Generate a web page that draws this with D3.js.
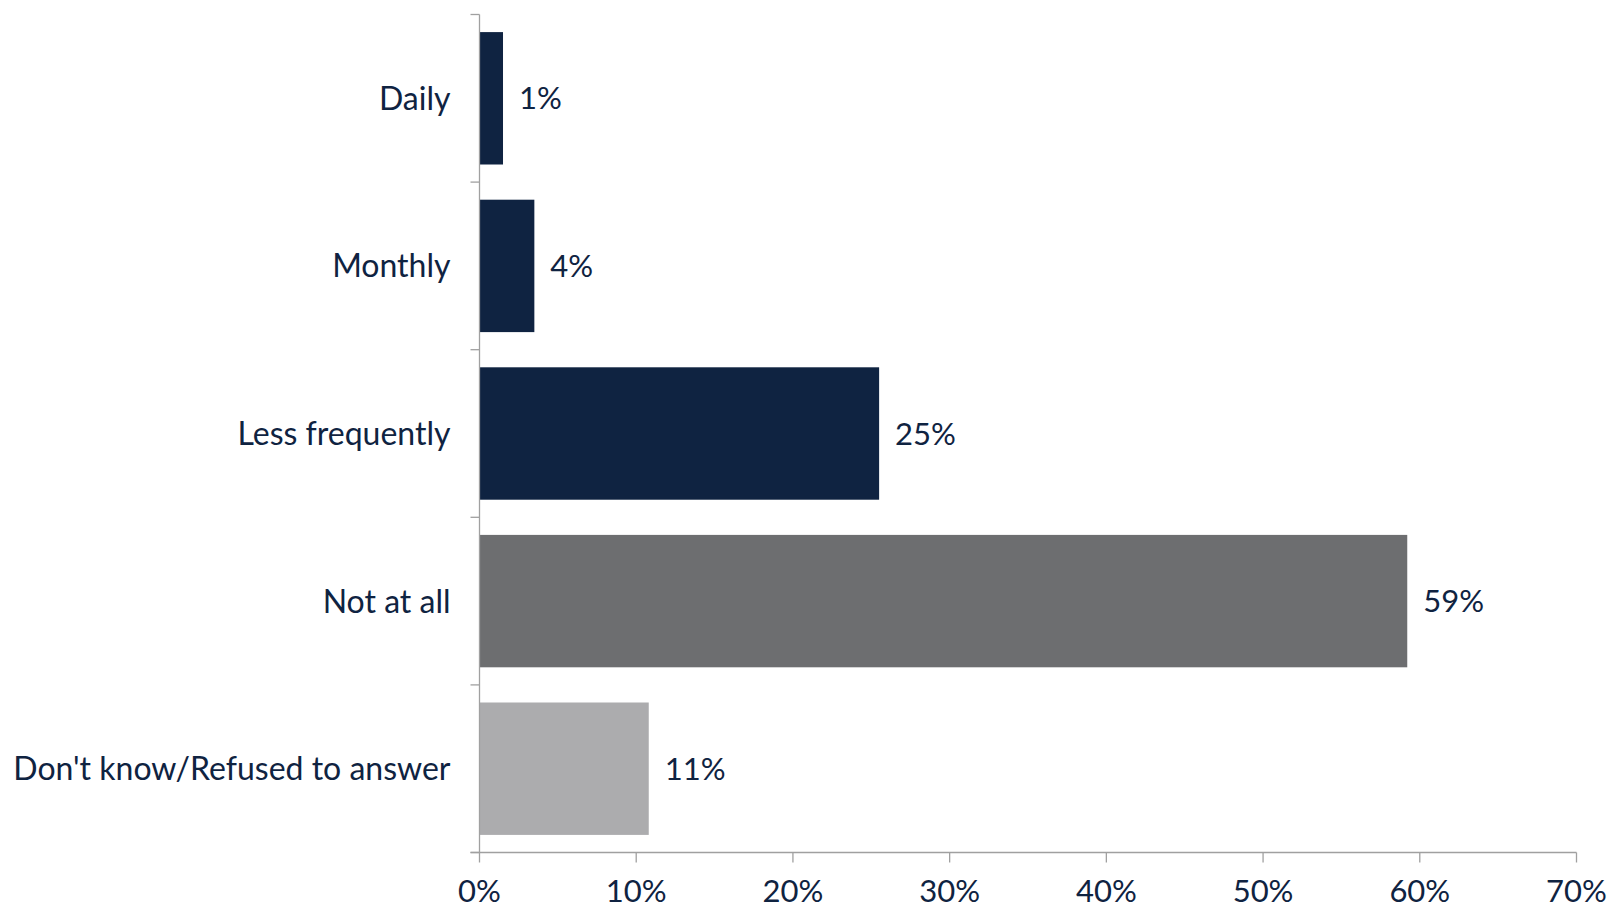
<!DOCTYPE html>
<html>
<head>
<meta charset="utf-8">
<script src="https://d3js.org/d3.v7.min.js"></script>
<style>
  body { margin: 0; background: #fff; }
  text { font-family: Lato, "Open Sans", sans-serif; fill: #0f2341; }
</style>
</head>
<body>
<script>
var categories = ["Daily", "Monthly", "Less frequently", "Not at all", "Don't know/Refused to answer"];
var values = [1.5, 3.5, 25.5, 59.2, 10.8];   // percent
var labels = ["1%", "4%", "25%", "59%", "11%"];
var colors = ["#0f2341", "#0f2341", "#0f2341", "#6d6e70", "#acacae"];
var xTicks = [0, 10, 20, 30, 40, 50, 60, 70];

var width = 1608, height = 907;
var mLeft = 479.5, mRight = 1576.5, mTop = 14.5, mBottom = 852.5;

var svg = d3.select("body").append("svg")
    .attr("width", width)
    .attr("height", height);

var x = d3.scaleLinear().domain([0, 70]).range([mLeft, mRight]);
var y = d3.scaleBand().domain(categories).range([mTop, mBottom])
    .paddingInner(0.21).paddingOuter(0.105);

var axisColor = "#a0a0a0";

// bars
svg.append("g").selectAll("rect")
    .data(categories)
    .enter().append("rect")
    .attr("x", x(0))
    .attr("y", function(d) { return y(d); })
    .attr("width", function(d, i) { return x(values[i]) - x(0); })
    .attr("height", y.bandwidth())
    .attr("fill", function(d, i) { return colors[i]; });

// value labels
svg.append("g").selectAll("text")
    .data(categories)
    .enter().append("text")
    .attr("x", function(d, i) { return x(values[i]) + 16; })
    .attr("y", function(d) { return y(d) + y.bandwidth() / 2; })
    .attr("dy", "0.36em")
    .style("font-size", "31px")
    .text(function(d, i) { return labels[i]; });

// category labels
svg.append("g").selectAll("text")
    .data(categories)
    .enter().append("text")
    .attr("x", mLeft - 29)
    .attr("y", function(d) { return y(d) + y.bandwidth() / 2; })
    .attr("dy", "0.36em")
    .attr("text-anchor", "end")
    .style("font-size", "32px")
    .text(function(d) { return d; });

// y axis line + ticks at band boundaries
var g = svg.append("g").attr("stroke", axisColor).attr("stroke-width", 1.3);
g.append("line").attr("x1", mLeft).attr("x2", mLeft).attr("y1", mTop).attr("y2", mBottom);
var bounds = d3.range(categories.length + 1).map(function(i) { return mTop + i * y.step(); });
g.selectAll(".yt").data(bounds).enter().append("line")
    .attr("x1", mLeft - 9).attr("x2", mLeft)
    .attr("y1", function(d) { return d; }).attr("y2", function(d) { return d; });

// x axis
g.append("line").attr("x1", mLeft - 9).attr("x2", mRight).attr("y1", mBottom).attr("y2", mBottom);
g.selectAll(".xt").data(xTicks).enter().append("line")
    .attr("x1", function(d) { return x(d); }).attr("x2", function(d) { return x(d); })
    .attr("y1", mBottom).attr("y2", mBottom + 10);

svg.append("g").selectAll("text")
    .data(xTicks)
    .enter().append("text")
    .attr("x", function(d) { return x(d); })
    .attr("y", 902)
    .attr("text-anchor", "middle")
    .style("font-size", "31px")
    .text(function(d) { return d + "%"; });
</script>
</body>
</html>
